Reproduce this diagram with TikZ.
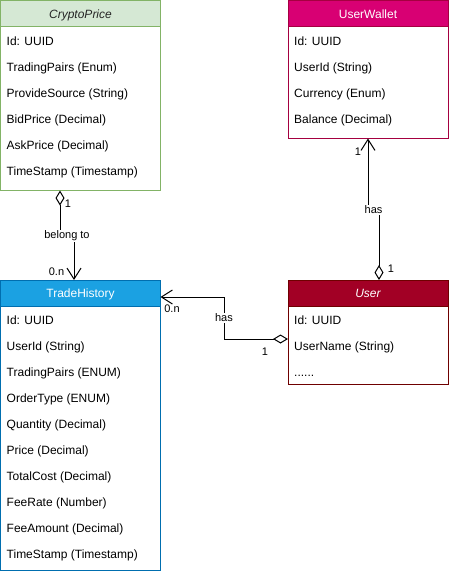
\documentclass[tikz,border=0pt]{standalone}
\usepackage{fontspec}
\setmainfont{Liberation Sans}
\usetikzlibrary{arrows.meta,calc}
\definecolor{gfill}{HTML}{D5E8D4}\definecolor{gline}{HTML}{82B366}
\definecolor{pfill}{HTML}{D80073}\definecolor{pline}{HTML}{A50040}
\definecolor{bfill}{HTML}{1BA1E2}\definecolor{bline}{HTML}{006EAF}
\definecolor{rfill}{HTML}{A20025}\definecolor{rline}{HTML}{6F0000}
\tikzset{
  cls/.style={draw, fill=white, line width=1pt, anchor=north west, minimum width=160pt, inner sep=0pt, outer sep=0pt},
  hdr/.style={cls, minimum height=26pt},
  att/.style={anchor=base west, inner sep=0pt, font=\fontsize{12}{14}\selectfont},
  ttl/.style={anchor=base, inner sep=0pt, font=\fontsize{12}{14}\selectfont},
  lbl/.style={fill=white, inner sep=1pt, font=\fontsize{11}{13}\selectfont},
  card/.style={inner sep=0pt, font=\fontsize{11}{13}\selectfont},
  agg/.style={line width=1pt, {Diamond[fill=white, length=15pt, width=9pt]}-{Straight Barb[length=11pt, width=14pt]}},
}
\begin{document}
\begin{tikzpicture}[x=1pt,y=-1pt]
\useasboundingbox (0,0) rectangle (449,571);
% CryptoPrice
\node[cls, draw=gline, minimum height=190pt] (cp) at (0.5,0.5) {};
\node[hdr, draw=gline, fill=gfill] (cph) at (cp.north west) {};
\node[ttl, text=black!85] (cpt) at ($(cph.north)+(0,17.5)$) {\itshape CryptoPrice};
\foreach \t [count=\i] in {Id: UUID, TradingPairs (Enum), ProvideSource (String), BidPrice (Decimal), AskPrice (Decimal), TimeStamp (Timestamp)}
  \node[att] (cp\i) at ($(cp.north west)+(6,18.5+26*\i)$) {\t};
% UserWallet
\node[cls, draw=pline, minimum height=138pt] (uw) at (288,0.5) {};
\node[hdr, draw=pline, fill=pfill] (uwh) at (uw.north west) {};
\node[ttl, text=white] (uwt) at ($(uwh.north)+(0,17.5)$) {UserWallet};
\foreach \t [count=\i] in {Id: UUID, UserId (String), Currency (Enum), Balance (Decimal)}
  \node[att] (uw\i) at ($(uw.north west)+(6,18.5+26*\i)$) {\t};
% TradeHistory
\node[cls, draw=bline, minimum height=290pt] (th) at (0.5,280) {};
\node[hdr, draw=bline, fill=bfill] (thh) at (th.north west) {};
\node[ttl, text=white] (tht) at ($(thh.north)+(0,17.5)$) {TradeHistory};
\foreach \t [count=\i] in {Id: UUID, UserId (String), TradingPairs (ENUM), OrderType (ENUM), Quantity (Decimal), Price (Decimal), TotalCost (Decimal), FeeRate (Number), FeeAmount (Decimal), TimeStamp (Timestamp)}
  \node[att] (th\i) at ($(th.north west)+(6,18.5+26*\i)$) {\t};
% User
\node[cls, draw=rline, minimum height=104pt] (us) at (288,280) {};
\node[hdr, draw=rline, fill=rfill] (ush) at (us.north west) {};
\node[ttl, text=white] (ust) at ($(ush.north)+(0,17.5)$) {\itshape User};
\node[att] (us1) at ($(us.north west)+(6,44.5)$) {Id: UUID};
\node[att] (us2) at ($(us.north west)+(6,70.5)$) {UserName (String)};
\node[att] (us3) at ($(us.north west)+(6,96.5)$) {......};
% connectors
\draw[agg] ($(cp.south west)+(59.5,0)$) -- ++(0,45.5) -| node[lbl, pos=0.25] (l1) {belong to} ($(th.north west)+(73.5,0)$);
\node[card] (c1) at (68,204) {1};
\node[card] (c2) at (56.5,272) {0.n};
\draw[agg] ($(us.north west)+(91,0)$) -- ++(0,-70) -| node[lbl, pos=0.25] (l2) {has} ($(uw.south west)+(80,0)$);
\node[card] (c3) at (391,269) {1};
\node[card] (c4) at (358,152) {1};
\draw[agg] ($(us.north west)+(0,59)$) -- ++(-64,0) |- node[lbl, pos=0.25] (l3) {has} ($(th.north east)+(0,17)$);
\node[card] (c5) at (172,309) {0.n};
\node[card] (c6) at (265,352) {1};
\end{tikzpicture}
\end{document}
